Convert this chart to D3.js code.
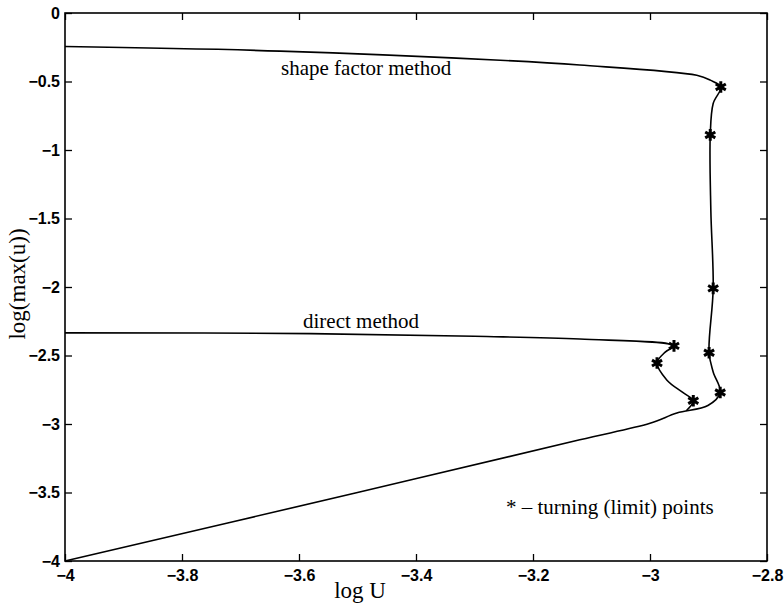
<!DOCTYPE html>
<html><head><meta charset="utf-8">
<script src="https://cdn.jsdelivr.net/npm/d3@7"></script>
<style>body{margin:0;background:#fff}svg{display:block}</style>
</head><body>
<script>
// ---- data ----
const xTicks = [-4, -3.8, -3.6, -3.4, -3.2, -3, -2.8];
const yTicks = [0, -0.5, -1, -1.5, -2, -2.5, -3, -3.5, -4];
// shape factor method curve (log U, log max u)
const shapeX = [-4, -3.632, -3.256, -3.12, -2.92, -2.897, -2.879, -2.892, -2.897, -2.896, -2.892, -2.899, -2.892, -2.880, -2.901, -2.954, -3.0, -3.12, -3.5, -4];
const shapeY = [-0.245, -0.278, -0.345, -0.38, -0.455, -0.49, -0.54, -0.66, -0.89, -1.44, -2.01, -2.48, -2.62, -2.77, -2.865, -2.92, -2.995, -3.115, -3.5, -4];
// direct method curve
const directX = [-4, -3.58, -3.3, -3.12, -2.959, -2.974, -2.988, -2.971, -2.944, -2.926, -2.938];
const directY = [-2.335, -2.34, -2.36, -2.38, -2.43, -2.475, -2.555, -2.68, -2.77, -2.83, -2.903];
// turning (limit) points
const turnX = [-2.879, -2.897, -2.892, -2.899, -2.880, -2.959, -2.988, -2.926];
const turnY = [-0.54, -0.89, -2.01, -2.48, -2.77, -2.43, -2.555, -2.83];
const labels = ["shape factor method", "direct method"];

// ---- layout ----
const W = 784, H = 605;
const L = 65, R = 767, T = 13, B = 561;
const svg = d3.select("body").append("svg").attr("width", W).attr("height", H);
const x = d3.scaleLinear().domain([-4, -2.8]).range([L, R]);
const y = d3.scaleLinear().domain([-4, 0]).range([B, T]);
const fmt = d => String(d).replace("-", "\u2212");
const tickFont = "'Liberation Sans', Arial, sans-serif";
const serif = "'Liberation Serif', 'Times New Roman', serif";

function styleAxis(g) {
  g.select(".domain").remove();
  g.selectAll("line").attr("stroke", "#000").attr("stroke-width", 1.3);
  g.selectAll("text").attr("font-family", tickFont).attr("font-weight", "bold")
    .attr("font-size", 16).attr("fill", "#000");
}
svg.append("g").attr("transform", `translate(0,${B})`)
  .call(d3.axisBottom(x).tickValues(xTicks).tickFormat(fmt).tickSizeInner(-7).tickSizeOuter(0).tickPadding(9))
  .call(styleAxis);
svg.append("g").attr("transform", `translate(0,${T})`)
  .call(d3.axisTop(x).tickValues(xTicks).tickFormat("").tickSizeInner(-7).tickSizeOuter(0))
  .call(styleAxis);
svg.append("g").attr("transform", `translate(${L},0)`)
  .call(d3.axisLeft(y).tickValues(yTicks).tickFormat(fmt).tickSizeInner(-7).tickSizeOuter(0).tickPadding(5))
  .call(styleAxis);
svg.append("g").attr("transform", `translate(${R},0)`)
  .call(d3.axisRight(y).tickValues(yTicks).tickFormat("").tickSizeInner(-7).tickSizeOuter(0))
  .call(styleAxis);
svg.append("rect").attr("x", L).attr("y", T).attr("width", R - L).attr("height", B - T)
  .attr("fill", "none").attr("stroke", "#000").attr("stroke-width", 1.6);

// ---- curves ----
const line = d3.line().x(d => x(d[0])).y(d => y(d[1])).curve(d3.curveCatmullRom.alpha(0.5));
const shape = shapeX.map((v, i) => [v, shapeY[i]]);
const direct = directX.map((v, i) => [v, directY[i]]);
[shape, direct].forEach(pts => {
  svg.append("path").attr("d", line(pts)).attr("fill", "none")
    .attr("stroke", "#000").attr("stroke-width", 1.6);
});

// ---- turning points ----
const star = d3.symbol().type(d3.symbolAsterisk).size(95);
svg.selectAll(".turn").data(turnX.map((v, i) => [v, turnY[i]])).enter().append("path")
  .attr("transform", d => `translate(${x(d[0])},${y(d[1])})`)
  .attr("d", star).attr("fill", "none").attr("stroke", "#000").attr("stroke-width", 3);

// ---- labels ----
svg.append("text").attr("x", 281).attr("y", y(-0.455)).text(labels[0])
  .attr("font-family", serif).attr("font-size", 21).attr("fill", "#000");
svg.append("text").attr("x", 303).attr("y", y(-2.297)).text(labels[1])
  .attr("font-family", serif).attr("font-size", 21).attr("fill", "#000");
svg.append("text").attr("x", 506).attr("y", y(-3.66))
  .attr("font-family", serif).attr("font-size", 21).attr("fill", "#000")
  .text("* \u2013 turning (limit) points");
svg.append("text").attr("x", 360).attr("y", 598).attr("text-anchor", "middle")
  .attr("font-family", serif).attr("font-size", 23).attr("fill", "#000").text("log U");
svg.append("text").attr("transform", `translate(25,${(T + B) / 2 - 3}) rotate(-90)`)
  .attr("text-anchor", "middle").attr("font-family", serif).attr("font-size", 23)
  .attr("fill", "#000").text("log(max(u))");
</script>
</body></html>
